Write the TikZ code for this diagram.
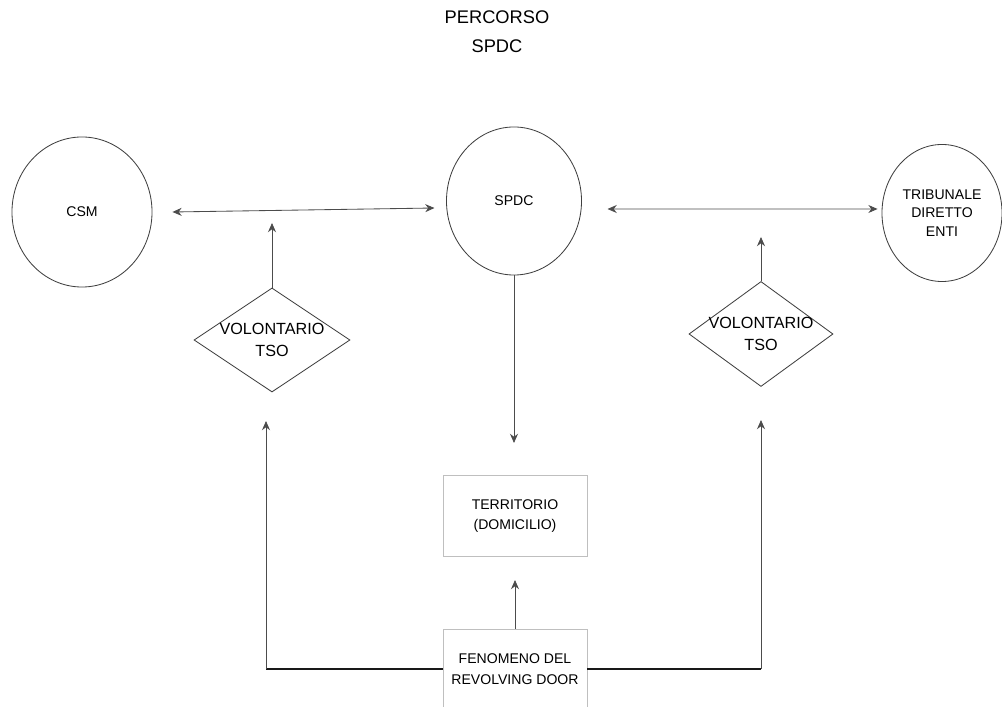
\documentclass[tikz,border=0pt]{standalone}
\usepackage{fontspec}
\setmainfont{Liberation Sans}
\usetikzlibrary{positioning,arrows.meta,shapes.geometric}

\begin{document}
\begin{tikzpicture}[
  x=0.025cm, y=-0.025cm,
  font=\fontsize{10}{13}\selectfont,
  >={Stealth[length=2.3mm,width=2mm]},
  place/.style={ellipse, draw=black!75, line width=0.6pt, inner sep=0pt, align=center},
  choice/.style={diamond, draw=black!75, line width=0.6pt, inner sep=0pt},
  choicelbl/.style={align=center, font=\fontsize{11.5}{15.5}\selectfont},
  box/.style={rectangle, draw=black!25, line width=0.6pt, align=center,
              minimum width=3.6cm, font=\fontsize{10}{14.5}\selectfont},
  link/.style={line width=0.6pt, draw=black!70},
  base/.style={line width=0.8pt, draw=black!90},
]
\useasboundingbox (0,0) rectangle (1002,707);

% ---- title ----
\node[align=center, font=\fontsize{13}{20.5}\selectfont] (title) at (497,32) {PERCORSO\\SPDC};

% ---- the three places ----
\node[place, minimum width=3.5cm, minimum height=3.75cm] (csm) at (82,212) {CSM};
\node[place, minimum width=3.375cm, minimum height=3.7cm] (spdc) at (514,201) {SPDC};
\node[place, minimum width=3cm, minimum height=3.425cm] (trib) at (942,213) {TRIBUNALE\\DIRETTO\\ENTI};

% ---- entry modes ----
\node[choice, minimum width=3.9cm, minimum height=2.6cm,
      label={[choicelbl]center:VOLONTARIO\\TSO}] (tsoL) at (272,340) {};
\node[choice, minimum width=3.6cm, minimum height=2.625cm,
      label={[choicelbl]center:VOLONTARIO\\TSO}] (tsoR) at (761,334) {};

% ---- territory and revolving door ----
\node[box, minimum height=2.025cm] (terr) at (515,516) {TERRITORIO\\(DOMICILIO)};
\node[box, minimum height=2cm] (rev) at (515,669) {FENOMENO DEL\\REVOLVING DOOR};

% ---- free ends and corners of the arrows ----
\coordinate (upL) at (272,223);
\coordinate (upR) at (761,237);
\coordinate (downM) at (514,443);
\coordinate (upT) at (515,580);
\coordinate (backL) at (266,421);
\coordinate (backR) at (761,420);
\coordinate (cornL) at (rev.west -| backL);
\coordinate (cornR) at (rev.east -| backR);

% ---- connectors ----
\draw[link, <->] ([xshift=0.5cm]csm.east) -- ([xshift=-0.29cm, yshift=-0.175cm]spdc.west);
\draw[link, <->] ([xshift=0.64cm, yshift=-0.2cm]spdc.east) -- ([xshift=-0.1cm, yshift=0.1cm]trib.west);
\draw[link, ->] (tsoL.north) -- (upL);
\draw[link, ->] (tsoR.north) -- (upR);
\draw[link, ->] (spdc.south) -- (downM);
\draw[link, ->] (rev.north) -- (upT);
% revolving door back to the two entry modes
\draw[base] (rev.west) -- (cornL);
\draw[link, ->] (cornL) -- (backL);
\draw[base] (rev.east) -- (cornR);
\draw[link, ->] (cornR) -- (backR);
\end{tikzpicture}
\end{document}
